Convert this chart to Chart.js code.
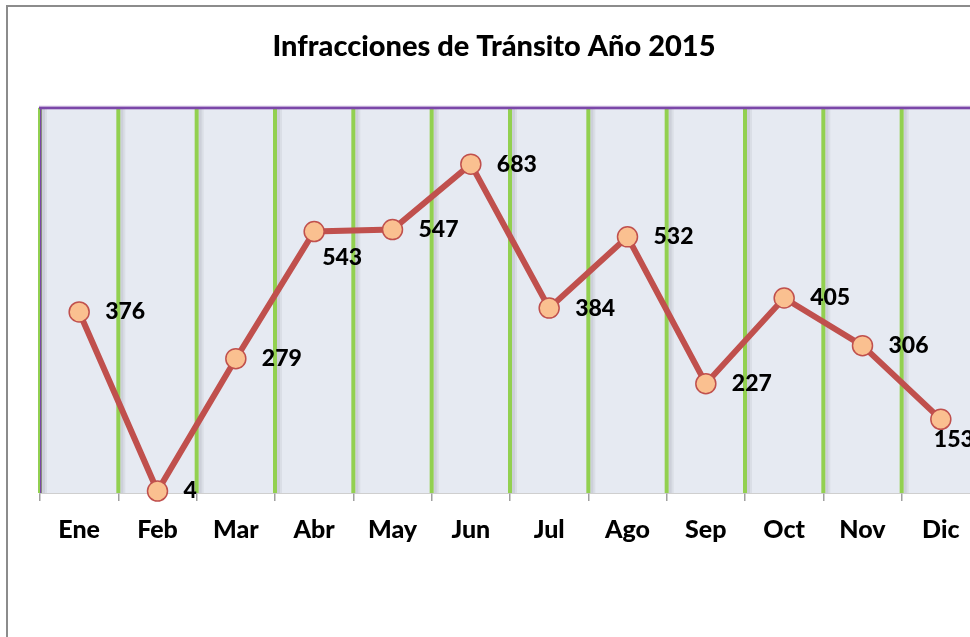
<!DOCTYPE html>
<html><head><meta charset="utf-8">
<script src="https://cdn.jsdelivr.net/npm/chart.js@4/dist/chart.umd.min.js"></script>
<style>
html,body{margin:0;padding:0;overflow:hidden;background:#fff;width:970px;height:637px}
#frame{position:absolute;left:6px;top:5px;width:1200px;height:1000px;border:2px solid #8c8c8c;box-sizing:border-box}
#wrap{position:absolute;left:0;top:0;width:1000px;height:637px}
</style></head><body>
<div id="frame"></div>
<div id="wrap"><canvas id="c"></canvas></div>
<script>
const chartTitle = 'Infracciones de Tránsito Año 2015';
const months = ['Ene','Feb','Mar','Abr','May','Jun','Jul','Ago','Sep','Oct','Nov','Dic'];
const infracciones = [376, 4, 279, 543, 547, 683, 384, 532, 227, 405, 306, 153];
const labelPlacement = ['right','right','right','below','right','right','right','right','right','right','right','belowLeft'];

const FONT = 'Lato, "Open Sans", sans-serif';

const plotDecor = {
  id: 'plotDecor',
  beforeDatasetsDraw(chart) {
    const {ctx, chartArea: a} = chart;
    const n = months.length;
    const step = (a.right - a.left) / n;
    ctx.save();
    ctx.fillStyle = '#E6EAF2';
    ctx.fillRect(a.left, a.top, a.right - a.left, a.bottom - a.top);
    for (let i = 0; i <= n; i++) {
      const x = a.left + i * step;
      ctx.fillStyle = 'rgba(120,120,130,0.22)';
      ctx.fillRect(x + 2, a.top, 3, a.bottom - a.top);
      ctx.fillStyle = 'rgba(120,120,130,0.10)';
      ctx.fillRect(x + 5, a.top, 2, a.bottom - a.top);
      ctx.fillStyle = '#92D050';
      ctx.fillRect(x - 2, a.top, 4, a.bottom - a.top);
    }
    ctx.fillStyle = '#7B47A8';
    ctx.fillRect(a.left - 1, a.top - 1, a.right - a.left + 2, 2.5);
    ctx.fillStyle = '#B79BD3';
    ctx.fillRect(a.left - 1, a.top - 2, a.right - a.left + 2, 1);
    ctx.fillStyle = '#7B47A8';
    ctx.fillRect(a.left, a.top, 1.5, a.bottom - a.top);
    ctx.restore();
  },
  afterDatasetsDraw(chart) {
    const {ctx} = chart;
    const meta = chart.getDatasetMeta(0);
    ctx.save();
    ctx.font = '900 23px ' + FONT;
    ctx.fillStyle = '#000';
    ctx.textAlign = 'left';
    ctx.textBaseline = 'middle';
    meta.data.forEach((pt, i) => {
      const v = infracciones[i];
      let x = pt.x, y = pt.y;
      const p = labelPlacement[i];
      if (p === 'right') { x += 26; }
      else if (p === 'below') { x += 8; y += 26; }
      else { x -= 7; y += 20; }
      ctx.fillText(String(v), x, y);
    });
    ctx.restore();
  }
};

new Chart(document.getElementById('c'), {
  type: 'line',
  data: {
    labels: months,
    datasets: [{
      data: infracciones,
      borderColor: '#C0504D',
      borderWidth: 6,
      pointRadius: 10,
      pointHoverRadius: 10,
      pointBackgroundColor: '#FAC090',
      pointBorderColor: '#C0504D',
      pointBorderWidth: 1.5,
      tension: 0,
      clip: false
    }]
  },
  options: {
    responsive: true,
    maintainAspectRatio: false,
    animation: false,
    events: [],
    layout: { padding: { left: 8, right: 20, top: 0, bottom: 78 } },
    plugins: {
      legend: { display: false },
      tooltip: { enabled: false },
      title: {
        display: true,
        text: chartTitle,
        color: '#000',
        font: { family: FONT, size: 29, weight: '900' },
        padding: { top: 29, bottom: 44 }
      }
    },
    scales: {
      x: {
        type: 'category',
        offset: true,
        grid: { display: true, drawOnChartArea: false, drawTicks: true, tickLength: 8, color: '#A0A0A0', lineWidth: 1.5, offset: true },
        border: { display: true, color: '#A0A0A0', width: 1.5 },
        ticks: { color: '#000', padding: 14, font: { family: FONT, size: 25, weight: '900' }, maxRotation: 0, autoSkip: false }
      },
      y: {
        min: 0, max: 800,
        display: true,
        grid: { display: false },
        border: { display: false },
        ticks: { display: false },
        afterFit(s) { s.width = 32; }
      }
    }
  },
  plugins: [plotDecor]
});
</script>
</body></html>
